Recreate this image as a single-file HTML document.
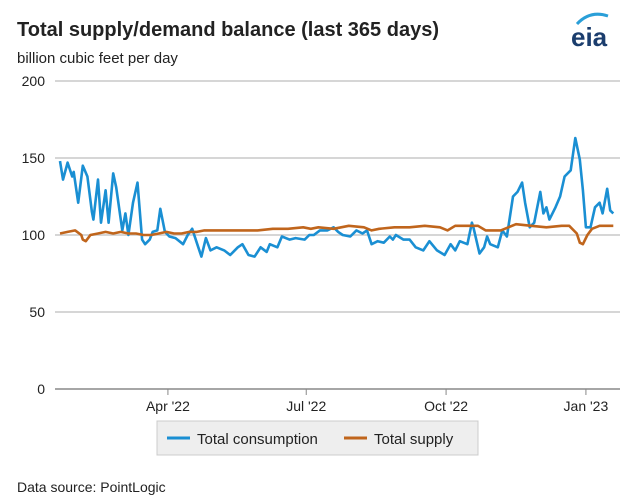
<!DOCTYPE html>
<html><head><meta charset="utf-8"><style>
body{margin:0;background:#fff;font-family:"Liberation Sans",Arial,sans-serif;}
#wrap{position:relative;width:622px;height:497px;overflow:hidden;}
</style></head><body>
<div id="wrap">
<svg id="svg" width="622" height="497" xmlns="http://www.w3.org/2000/svg" font-family="Liberation Sans, Arial, sans-serif">
  <text x="17" y="36" font-size="20" font-weight="bold" fill="#222">Total supply/demand balance (last 365 days)</text>
  <text x="17" y="63" font-size="15" fill="#222">billion cubic feet per day</text>
  <g>
    <text x="571" y="46" font-size="26" font-weight="bold" fill="#1b3d6d">eia</text>
    <path d="M577 24 Q590 10 608 16" stroke="#2a9fd8" stroke-width="3" fill="none"/>
  </g>
  <g id="grid"></g>
  <g id="series"></g>
  <g>
    <rect x="157" y="421" width="321" height="34" fill="#eeeeee" stroke="#cccccc"/>
    <line x1="167" y1="438" x2="190" y2="438" stroke="#1a8fd3" stroke-width="3"/>
    <text x="197" y="444" font-size="15" fill="#222">Total consumption</text>
    <line x1="344" y1="438" x2="367" y2="438" stroke="#c0651c" stroke-width="3"/>
    <text x="374" y="444" font-size="15" fill="#222">Total supply</text>
  </g>
  <text x="17" y="492" font-size="14" fill="#222">Data source: PointLogic</text>
</svg>
</div>
<script>
const yTicks=[0,50,100,150,200];
const xTickLabels=["Apr '22","Jul '22","Oct '22","Jan '23"];
const xTickDays=[71,162,254,346];
const consDays=[0,2,5,8,9,12,15,18,21,22,25,27,30,32,35,37,41,43,45,48,51,54,56,59,61,64,66,69,72,76,81,84,87,91,93,96,99,103,108,112,117,120,124,128,132,136,138,143,146,151,155,161,164,167,171,176,180,183,186,191,195,199,202,205,209,213,217,219,221,226,230,234,239,243,248,253,257,260,263,268,271,272,276,279,281,283,288,291,294,298,301,304,306,309,312,316,318,320,322,326,329,332,336,339,342,344,346,349,352,355,357,360,362,364];
const consVals=[148,136,147,138,141,121,145,138,115,110,136,108,129,108,140,131,103,114,100,121,134,97,94,97,102,103,117,102,99,98,94,100,104,92,86,98,90,92,90,87,92,94,87,86,92,89,94,92,99,97,98,97,100,100,103,103,105,102,100,99,103,101,103,94,96,95,99,97,100,97,97,92,90,96,90,87,94,90,96,94,108,105,88,92,99,94,92,103,99,125,128,134,121,105,108,128,114,118,110,118,125,138,142,163,149,129,105,105,118,121,114,130,116,114];
const supDays=[0,5,10,14,15,17,20,25,30,35,40,45,50,55,60,65,70,75,80,85,90,95,100,110,120,130,140,150,160,165,170,180,190,200,205,210,220,230,240,250,255,260,270,275,280,290,295,300,310,320,330,335,340,342,344,347,350,355,360,364];
const supVals=[101,102,103,100,97,96,100,101,102,101,102,101,101,100,100,101,102,101,101,102,102,103,103,103,103,103,104,104,105,104,105,104,106,105,103,104,105,105,106,105,103,106,106,106,103,103,105,107,106,105,106,106,101,95,94,100,104,106,106,106];
const NS="http://www.w3.org/2000/svg";
const X0=60,PXD=1.52,Y0=389,PXV=1.54;
const xs=d=>X0+d*PXD, ys=v=>Y0-v*PXV;
const grid=document.getElementById('grid'),series=document.getElementById('series');
yTicks.forEach(t=>{
  const l=document.createElementNS(NS,'line');
  l.setAttribute('x1',55);l.setAttribute('x2',620);l.setAttribute('y1',ys(t));l.setAttribute('y2',ys(t));
  l.setAttribute('stroke',t===0?'#888':'#c8c8c8');l.setAttribute('stroke-width',t===0?1.5:1.5);
  
  
  grid.appendChild(l);
  const tx=document.createElementNS(NS,'text');
  tx.setAttribute('x',45);tx.setAttribute('y',ys(t)+5);tx.setAttribute('text-anchor','end');
  tx.setAttribute('font-size','14');tx.setAttribute('fill','#222');tx.textContent=t;
  
  
  grid.appendChild(tx);
});
xTickDays.forEach((d,i)=>{
  const l=document.createElementNS(NS,'line');
  l.setAttribute('x1',xs(d));l.setAttribute('x2',xs(d));l.setAttribute('y1',389);l.setAttribute('y2',395);
  l.setAttribute('stroke','#888');
  
  
  grid.appendChild(l);
  const tx=document.createElementNS(NS,'text');
  tx.setAttribute('x',xs(d));tx.setAttribute('y',411);tx.setAttribute('text-anchor','middle');
  tx.setAttribute('font-size','14');tx.setAttribute('fill','#222');tx.textContent=xTickLabels[i];
  
  
  grid.appendChild(tx);
});
function line(days,vals,color,name){
  const p=document.createElementNS(NS,'polyline');
  p.setAttribute('points',days.map((d,i)=>xs(d).toFixed(1)+','+ys(vals[i]).toFixed(1)).join(' '));
  p.setAttribute('fill','none');p.setAttribute('stroke',color);p.setAttribute('stroke-width','2.6');
  p.setAttribute('stroke-linejoin','round');
  
  
  series.appendChild(p);
}
line(consDays,consVals,'#1a8fd3','consumption-line');
line(supDays,supVals,'#c0651c','supply-line');
</script>
</body></html>
